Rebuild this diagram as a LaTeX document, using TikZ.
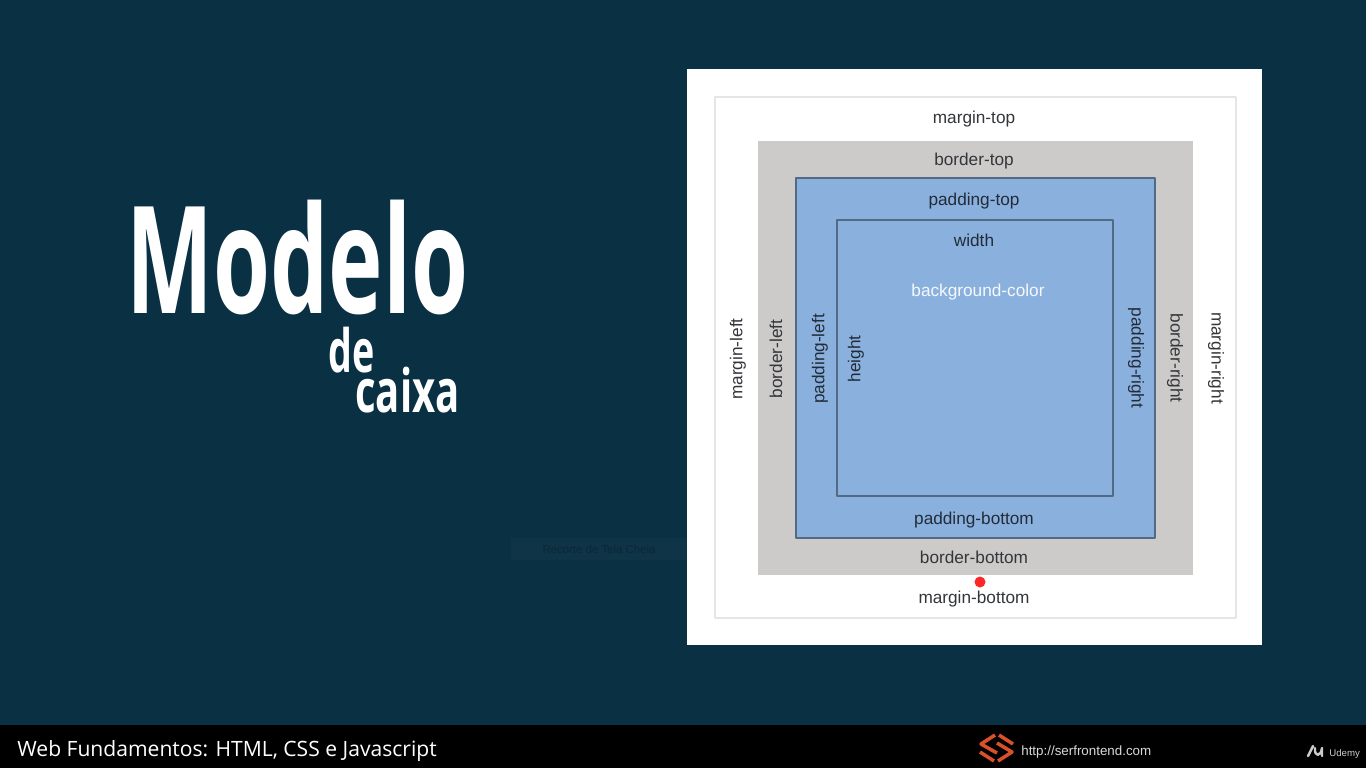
\documentclass[tikz,border=0pt]{standalone}
\usepackage{fontspec}
\setmainfont{Liberation Sans}
\newfontfamily\titlefont[FakeStretch=0.617]{Open Sans Bold}
\newfontfamily\defont[FakeStretch=0.63]{Open Sans Bold}
\newfontfamily\subfont[FakeStretch=0.67]{Open Sans Bold}
\newfontfamily\footfont{Open Sans}
\definecolor{slidebg}{HTML}{0A3043}
\definecolor{boxblue}{HTML}{8AB0DE}
\definecolor{boxgray}{HTML}{CCCBC9}
\definecolor{labeltxt}{HTML}{33363A}
\definecolor{logored}{HTML}{D9502B}
\tikzset{
	boxlabel/.style={font=\fontsize{9.8pt}{11pt}\selectfont,text=labeltxt,inner sep=0pt},
	bluelabel/.style={boxlabel,text=black!75!boxblue},
	boxedge/.style={draw=#1,line width=0.7pt},
	titletext/.style={text=white,inner sep=0pt,anchor=base west},
	logoband/.style={draw=logored,line width=2pt,line cap=butt}
}
\begin{document}
\begin{tikzpicture}[x=0.02cm,y=-0.02cm,line join=round]
	\useasboundingbox (0,0) rectangle (1366,768);
	\fill[slidebg] (0,0) rectangle (1366,768);
	\fill[black] (0,725) rectangle (1366,768);
	% title
	\node[titletext] (modelo) at (126,313) {\titlefont\fontsize{85pt}{90pt}\selectfont Modelo};
	\node[titletext] (de) at (328,372) {\defont\fontsize{34pt}{36pt}\selectfont de};
	\node[titletext] (caixa) at (355,412) {\subfont\fontsize{34pt}{36pt}\selectfont caixa};
	% faint screen clipping hint
	\fill[white,opacity=0.025] (511,538) rectangle (727,560);
	\node[text=black,opacity=0.25,font=\fontsize{6.5pt}{8pt}\selectfont,inner sep=0pt] (recorte) at (599,549) {Recorte de Tela Cheia};
	% boxes
	\fill[white] (687,69) rectangle (1262,645);
	\draw[boxedge=black!10] (715,97) rectangle (1236,618);
	\fill[boxgray] (758,141) rectangle (1193,575);
	\draw[boxedge=black!40!boxblue,fill=boxblue] (796,178) rectangle (1155,538);
	\draw[boxedge=black!40!boxblue] (837,220) rectangle (1113,496);
	% labels
	\foreach \name/\px/\py/\txt in {mtop/974/119/margin-top,btop/974/161/border-top,bbot/974/557/border-bottom,mbot/974/599/margin-bottom}
	{
		\node[boxlabel] (\name) at (\px,\py) {\txt};
	}
	\foreach \name/\px/\py/\txt in {ptop/974/201/padding-top,wid/974/240/width,pbot/974/520/padding-bottom}
	{
		\node[bluelabel] (\name) at (\px,\py) {\txt};
	}
	\node[boxlabel,text=white!92!boxblue] (bgcolor) at (978,292) {background-color};
	\foreach \name/\px/\py/\txt in {mleft/738/359/margin-left,bleft/776/359/border-left}
	{
		\node[boxlabel,rotate=90] (\name) at (\px,\py) {\txt};
	}
	\foreach \name/\px/\py/\txt in {pleft/820/359/padding-left,hgt/856/359/height}
	{
		\node[bluelabel,rotate=90] (\name) at (\px,\py) {\txt};
	}
	\node[bluelabel,rotate=-90] (pright) at (1136,358) {padding-right};
	\foreach \name/\px/\py/\txt in {bright/1175/358/border-right,mright/1216/358/margin-right}
	{
		\node[boxlabel,rotate=-90] (\name) at (\px,\py) {\txt};
	}
	% pointer dot
	\fill[red!85!white] (980,582) circle (5.5);
	% footer
	\node[titletext,font=\footfont\fontsize{12pt}{14pt}\selectfont] (course) at (17,756) {Web Fundamentos: HTML, CSS e Javascript};
	\draw[logoband] (995,735) -- (981,744) -- (997,753);
	\draw[logoband] (999,735) -- (1013,744);
	\draw[logoband] (997,743) -- (1012,752) -- (998,761);
	\draw[logoband] (980,752) -- (994,761);
	\node[titletext,text=white!85!black,font=\fontsize{7.6pt}{9pt}\selectfont] (site) at (1021,755) {http://serfrontend.com};
	\draw[white!80!black,line width=1.4pt,line cap=round] (1308,756) -- (1313,746) (1315,748) .. controls (1314,757) and (1321,757) .. (1322,748) -- (1322,756);
	\node[titletext,text=white!80!black,font=\fontsize{5.5pt}{7pt}\selectfont] (udemy) at (1329,756) {Udemy};
\end{tikzpicture}
\end{document}
